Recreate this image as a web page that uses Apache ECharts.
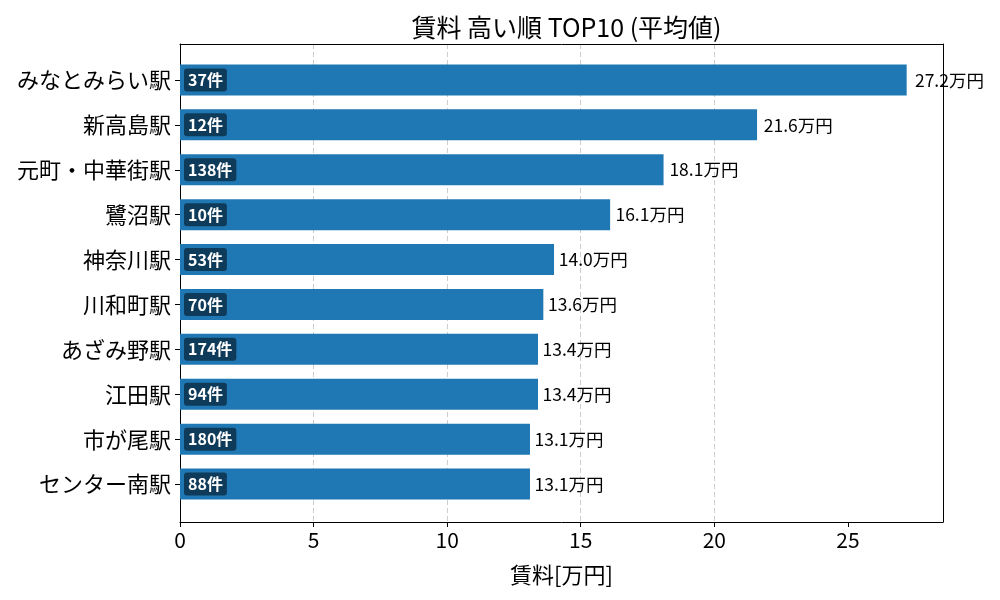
<!doctype html>
<html>
<head>
    <meta charset="utf-8" />
    <script src="https://cdn.jsdelivr.net/npm/echarts@6/dist/echarts.min.js"></script>
    <style>
        html, body { margin: 0; padding: 0; background: #fff; }
        #chart { width: 1000px; height: 600px; }
    </style>
</head>
<body>
<div id="chart"></div>
<script>
const FONT = '"Noto Sans CJK JP", "Noto Sans", sans-serif';

const stations = ["みなとみらい駅", "新高島駅", "元町・中華街駅", "鷺沼駅", "神奈川駅",
    "川和町駅", "あざみ野駅", "江田駅", "市が尾駅", "センター南駅"];
const rent = [27.2, 21.6, 18.1, 16.1, 14.0, 13.6, 13.4, 13.4, 13.1, 13.1];
const counts = [37, 12, 138, 10, 53, 70, 174, 94, 180, 88];
const xTicks = [0, 5, 10, 15, 20, 25];

const xMax = Math.max(...rent) * 1.05;
const pxPerUnit = 763 / xMax;

var chart = echarts.init(document.getElementById('chart'));
chart.setOption({
    animation: false,
    title: {
        text: '賃料 高い順 TOP10 (平均値)',
        left: 561.5,
        textAlign: 'center',
        top: 10,
        textStyle: { fontFamily: FONT, fontSize: 25, fontWeight: 'normal', color: '#000' }
    },
    grid: [
        // bars
        { left: 180, right: 57, top: 57.5, height: 449, show: false },
        // frame + x axis
        { left: 180, right: 57, top: 44, height: 478, show: false }
    ],
    xAxis: [{
        gridIndex: 0,
        type: 'value',
        min: 0,
        max: xMax,
        show: false
    }, {
        gridIndex: 1,
        type: 'value',
        position: 'bottom',
        min: 0,
        max: xMax,
        interval: 5,
        name: '賃料[万円]',
        nameLocation: 'middle',
        nameGap: 42,
        nameTextStyle: { fontFamily: FONT, fontSize: 22, color: '#000' },
        axisLine: { show: true, onZero: false, lineStyle: { color: '#000' } },
        axisTick: { show: true, length: 5, customValues: xTicks, lineStyle: { color: '#000' } },
        axisLabel: { fontFamily: FONT, fontSize: 21, color: '#000', margin: 8, customValues: xTicks },
        splitLine: { show: true, showMinLine: false, showMaxLine: false, lineStyle: { color: '#cccccc', type: [5, 3], width: 1 } }
    }, {
        gridIndex: 1,
        type: 'value',
        position: 'top',
        min: 0,
        max: xMax,
        axisLine: { show: true, onZero: false, lineStyle: { color: '#000' } },
        axisTick: { show: false },
        axisLabel: { show: false },
        splitLine: { show: false }
    }],
    yAxis: [{
        gridIndex: 0,
        type: 'category',
        data: stations,
        inverse: true,
        axisLine: { show: false },
        axisTick: { show: true, alignWithLabel: true, length: 5, lineStyle: { color: '#000' } },
        axisLabel: { fontFamily: FONT, fontSize: 22, color: '#000', margin: 9 },
        splitLine: { show: false }
    }, {
        gridIndex: 1,
        type: 'value',
        position: 'left',
        min: 0,
        max: 1,
        axisLine: { show: true, onZero: false, lineStyle: { color: '#000' } },
        axisTick: { show: false },
        axisLabel: { show: false },
        splitLine: { show: false }
    }, {
        gridIndex: 1,
        type: 'value',
        position: 'right',
        min: 0,
        max: 1,
        axisLine: { show: true, onZero: false, lineStyle: { color: '#000' } },
        axisTick: { show: false },
        axisLabel: { show: false },
        splitLine: { show: false }
    }],
    series: [{
        type: 'bar',
        xAxisIndex: 0,
        yAxisIndex: 0,
        data: rent,
        barWidth: 31,
        itemStyle: { color: '#1f77b4' },
        label: {
            show: true,
            position: 'insideLeft',
            distance: 4,
            formatter: p => counts[p.dataIndex] + '件',
            fontFamily: FONT,
            fontSize: 16,
            fontWeight: 'bold',
            color: '#fff',
            backgroundColor: 'rgba(0,0,0,0.5)',
            borderRadius: 3,
            padding: [4, 4, 3, 4]
        },
        z: 2
    }, {
        type: 'bar',
        xAxisIndex: 0,
        yAxisIndex: 0,
        // label sits at value * 1.01, like the source plot
        data: rent.map(v => ({ value: v, label: { distance: v * 0.01 * pxPerUnit + 1 } })),
        barWidth: 31,
        barGap: '-100%',
        itemStyle: { color: 'transparent' },
        label: {
            show: true,
            position: 'right',
            formatter: p => p.value.toFixed(1) + '万円',
            fontFamily: FONT,
            fontSize: 17.5,
            color: '#000'
        },
        z: 3
    }]
});
</script>
</body>
</html>
